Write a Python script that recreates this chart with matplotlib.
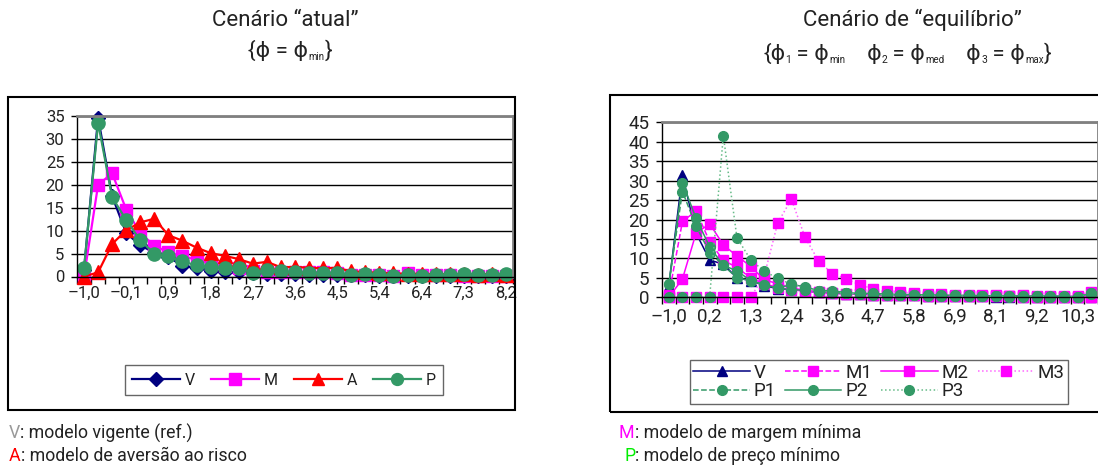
import numpy as np
import matplotlib
matplotlib.use('Agg')
import matplotlib.pyplot as plt
from matplotlib.patches import Rectangle
from matplotlib.ticker import FixedLocator

plt.rcParams['font.family'] = ['Roboto', 'DejaVu Sans']

# ---- data: cenario "atual" (31 categorias) ----
left_labels = ['–1,0', '–0,1', '0,9', '1,8', '2,7', '3,6', '4,5', '5,4', '6,4', '7,3', '8,2']
left_V = [1.5, 34.6, 17.5, 9.5, 6.8, 5.2, 4.3, 2.3, 1.8, 1.3, 1.0, 0.9, 0.7, 0.6, 0.5, 0.5,
          0.4, 0.4, 0.3, 0.3, 0.3, 0.2, 0.2, 0.2, 0.2, 0.2, 0.1, 0.1, 0.1, 0.1, 0.1]
left_M = [0.0, 20.0, 22.5, 14.6, 9.5, 6.7, 5.3, 4.5, 3.6, 2.8, 2.2, 1.8, 1.2, 1.0, 1.0, 1.0,
          1.0, 0.9, 0.8, 0.3, 0.4, 0.3, 0.2, 0.8, 0.3, 0.3, 0.3, 0.2, 0.2, 0.2, 0.2]
left_A = [0.0, 0.9, 7.1, 10.1, 11.8, 12.6, 9.0, 7.8, 6.3, 5.1, 4.5, 3.8, 2.8, 3.2, 2.0, 2.1,
          1.9, 1.8, 1.9, 1.1, 1.0, 0.8, 0.7, 0.6, 0.6, 0.5, 0.5, 0.5, 0.4, 0.6, 0.4]
left_P = [1.8, 33.5, 17.3, 12.3, 7.9, 5.0, 4.4, 3.3, 2.4, 2.1, 1.8, 1.9, 0.8, 1.4, 1.1, 0.9,
          0.8, 0.7, 0.7, 0.3, 0.5, 0.4, 0.1, 0.3, 0.2, 0.3, 0.4, 0.5, 0.4, 0.3, 0.5]

# ---- data: cenario de "equilibrio" (32 categorias) ----
right_labels = ['–1,0', '0,2', '1,3', '2,4', '3,6', '4,7', '5,8', '6,9', '8,1', '9,2', '10,3']
right_V = [3.0, 31.5, 16.5, 9.6, 8.5, 5.0, 4.3, 3.0, 2.2, 2.0, 1.6, 1.3, 1.1, 0.9, 0.8, 0.7,
           0.6, 0.5, 0.5, 0.4, 0.4, 0.3, 0.3, 0.3, 0.2, 0.2, 0.2, 0.2, 0.1, 0.1, 0.1, 0.1]
right_M1 = [0.5, 19.5, 22.2, 14.3, 9.5, 7.7, 5.0, 3.5, 2.5, 2.0, 1.6, 1.3, 1.0, 0.9, 0.8, 0.7,
            0.6, 0.5, 0.5, 0.4, 0.4, 0.4, 0.3, 0.3, 0.3, 0.3, 0.2, 0.2, 0.2, 0.2, 0.2, 0.2]
right_M2 = [0.0, 4.7, 16.5, 18.9, 13.5, 10.6, 8.0, 4.5, 3.5, 2.4, 1.8, 1.4, 1.1, 0.9, 0.8, 0.7,
            0.6, 0.5, 0.5, 0.4, 0.4, 0.4, 0.3, 0.3, 0.3, 0.3, 0.3, 0.2, 0.2, 0.2, 0.2, 0.2]
right_M3 = [0.0, 0.0, 0.0, 0.0, 0.0, 0.0, 0.0, 5.5, 19.2, 25.2, 15.4, 9.3, 6.1, 4.8, 3.2, 2.2,
            1.7, 1.3, 1.1, 0.9, 0.8, 0.7, 0.6, 0.5, 0.5, 0.4, 0.5, 0.4, 0.4, 0.3, 0.3, 1.3]
right_P1 = [3.3, 27.2, 18.3, 11.5, 8.2, 5.0, 4.3, 3.2, 2.3, 2.0, 1.8, 1.5, 1.2, 1.0, 0.9, 0.8,
            0.7, 0.6, 0.5, 0.5, 0.4, 0.4, 0.4, 0.3, 0.3, 0.3, 0.3, 0.3, 0.2, 0.2, 0.2, 1.0]
right_P2 = [3.3, 29.5, 20.3, 13.0, 8.2, 6.8, 4.3, 3.2, 2.3, 3.3, 2.7, 1.7, 1.7, 1.2, 1.0, 1.0,
            0.8, 0.7, 0.7, 0.6, 0.6, 0.5, 0.5, 0.4, 0.4, 0.4, 0.3, 0.3, 0.3, 0.3, 0.1, 1.0]
right_P3 = [0.0, 0.0, 0.0, 0.2, 41.6, 15.3, 9.7, 6.7, 4.9, 3.3, 2.5, 1.5, 1.3, 1.0, 0.8, 0.7,
            0.6, 0.5, 0.5, 0.4, 0.4, 0.3, 0.3, 0.3, 0.3, 0.2, 0.2, 0.2, 0.2, 0.2, 0.1, 0.9]

NAVY = '#000080'
MAG = '#ff00ff'
RED = '#ff0000'
GREEN = '#339966'
TXT = '#222222'

W, H = 1098, 465
fig = plt.figure(figsize=(W / 100, H / 100), dpi=100)
renderer = fig.canvas.get_renderer()


def fx(px):
    return px / W


def fy(py):
    return 1 - py / H


def px_axes(x0, y0, x1, y1):
    return fig.add_axes([fx(x0), fy(y1), fx(x1 - x0), (y1 - y0) / H])


def style_cat_axis(ax, n, labels, ymax, fs):
    ax.set_xlim(-0.5, n - 0.5)
    ax.set_ylim(0, ymax)
    ax.set_yticks(np.arange(0, ymax + 1, 5))
    ax.yaxis.grid(True, color='black', lw=1)
    ax.set_axisbelow(True)
    ax.set_xticks(np.arange(0, len(labels) * 3, 3))
    ax.set_xticklabels(labels, fontsize=fs, color=TXT)
    ax.xaxis.set_minor_locator(FixedLocator(np.arange(n + 1) - 0.5))
    ax.tick_params(axis='x', which='major', length=0, pad=7)
    ax.tick_params(axis='x', which='minor', length=5, width=1, direction='out')
    ax.tick_params(axis='y', length=4, width=1, direction='out', labelsize=fs, pad=5,
                   labelcolor=TXT)
    for s in ['top', 'right']:
        ax.spines[s].set_color('#808080')
        ax.spines[s].set_linewidth(2)
    for s in ['left', 'bottom']:
        ax.spines[s].set_color('black')
        ax.spines[s].set_linewidth(1)


def rich_line(xc, y, pieces):
    # pieces: (text, fontsize, drop in px); laid out left to right, centred on xc
    objs = []
    x = 0.0
    for txt, fs, drop in pieces:
        t = fig.text(0, fy(y + drop), txt, fontsize=fs, color=TXT, va='center', ha='left')
        w = t.get_window_extent(renderer=renderer).width
        objs.append((t, x))
        x += w
    start = xc - x / 2
    for t, off in objs:
        t.set_x(fx(start + off))


# chart frames
fig.patches.append(Rectangle((fx(8), fy(410)), fx(507), (410 - 97) / H, fill=False,
                             ec='black', lw=1.5, transform=fig.transFigure))
fig.patches.append(Rectangle((fx(610), fy(412)), fx(520), (412 - 95) / H, fill=False,
                             ec='black', lw=1.5, transform=fig.transFigure))

# ---- left chart ----
ax1 = px_axes(77, 116, 513, 276.5)
x1 = np.arange(len(left_V))
h_v, = ax1.plot(x1, left_V, color=NAVY, lw=1.6, marker='D', ms=7.5, mfc=NAVY, mec=NAVY, label='V')
h_m, = ax1.plot(x1, left_M, color=MAG, lw=1.6, marker='s', ms=9, mfc=MAG, mec=MAG, label='M')
h_a, = ax1.plot(x1, left_A, color=RED, lw=1.6, marker='^', ms=9.5, mfc=RED, mec=RED, label='A')
h_p, = ax1.plot(x1, left_P, color=GREEN, lw=1.6, marker='o', ms=9.5, mfc=GREEN, mec=GREEN, label='P')
for h in (h_v, h_m, h_a, h_p):
    h.set_clip_on(False)
style_cat_axis(ax1, len(left_V), left_labels, 35, 12)

leg1 = fig.legend(handles=[h_v, h_m, h_a, h_p], loc='center', bbox_to_anchor=(fx(284), fy(380)),
                  ncol=4, fontsize=11.5, frameon=True, fancybox=False, edgecolor='#404040',
                  handlelength=3.0, handletextpad=0.3, columnspacing=1.0, borderpad=0.45,
                  markerscale=0.9)
leg1.get_frame().set_linewidth(1)
for t in leg1.get_texts():
    t.set_color(TXT)

# ---- right chart ----
ax2 = px_axes(662, 122.3, 1098, 297.3)
x2 = np.arange(len(right_V))
kw = dict(lw=1.1, ms=7)
r_v, = ax2.plot(x2, right_V, color=NAVY, marker='^', mfc=NAVY, mec=NAVY, ls='-', label='V', **kw)
r_m1, = ax2.plot(x2, right_M1, color=MAG, marker='s', mfc=MAG, mec=MAG, ls='--', label='M1', **kw)
r_m2, = ax2.plot(x2, right_M2, color=MAG, marker='s', mfc=MAG, mec=MAG, ls='-', label='M2', **kw)
r_m3, = ax2.plot(x2, right_M3, color='#ff66ff', marker='s', mfc=MAG, mec=MAG, ls=':', label='M3', **kw)
r_p1, = ax2.plot(x2, right_P1, color=GREEN, marker='o', mfc=GREEN, mec=GREEN, ls='--', label='P1', **kw)
r_p2, = ax2.plot(x2, right_P2, color=GREEN, marker='o', mfc=GREEN, mec=GREEN, ls='-', label='P2', **kw)
r_p3, = ax2.plot(x2, right_P3, color='#66bb88', marker='o', mfc=GREEN, mec=GREEN, ls=':', label='P3', **kw)
for h in (r_v, r_m1, r_m2, r_m3, r_p1, r_p2, r_p3):
    h.set_clip_on(False)
style_cat_axis(ax2, len(right_V), right_labels, 45, 13.5)

leg2 = fig.legend(handles=[r_v, r_p1, r_m1, r_p2, r_m2, r_p3, r_m3], loc='center',
                  bbox_to_anchor=(fx(879), fy(382)), ncol=4, fontsize=13.5, frameon=True,
                  fancybox=False, edgecolor='#404040', handlelength=3.0, handletextpad=0.2,
                  columnspacing=0.5, borderpad=0.2, labelspacing=0.05)
leg2.get_frame().set_linewidth(1)
for t in leg2.get_texts():
    t.set_color(TXT)

# ---- titles ----
fig.text(fx(285), fy(20), 'Cenário “atual”', ha='center', va='center', fontsize=16, color=TXT)
rich_line(290, 51, [('{ϕ = ϕ', 16, 0), ('min', 7, 6), ('}', 16, 0)])
fig.text(fx(912), fy(20), 'Cenário de “equilíbrio”', ha='center', va='center', fontsize=16,
         color=TXT)
rich_line(907, 54, [('{ϕ', 16, 0), ('1', 7.5, 6), (' = ϕ', 16, 0), ('min', 7, 6),
                    ('    ϕ', 16, 0), ('2', 7.5, 6), (' = ϕ', 16, 0), ('med', 7, 6),
                    ('    ϕ', 16, 0), ('3', 7.5, 6), (' = ϕ', 16, 0), ('max', 7, 6),
                    ('}', 16, 0)])


# ---- notes below charts ----
def note(x, y, key, key_color, rest):
    t = fig.text(fx(x), fy(y), key, color=key_color, fontsize=12.8, va='center', ha='left')
    bb = t.get_window_extent(renderer=renderer)
    fig.text(bb.x1 / W, fy(y), rest, color=TXT, fontsize=12.8, va='center', ha='left')


note(9, 433, 'V', '#999999', ': modelo vigente (ref.)')
note(9, 456, 'A', RED, ': modelo de aversão ao risco')
note(619, 433, 'M', MAG, ': modelo de margem mínima')
note(624, 456, 'P', '#00ee00', ': modelo de preço mínimo')

fig.savefig('out.png', dpi=100)
